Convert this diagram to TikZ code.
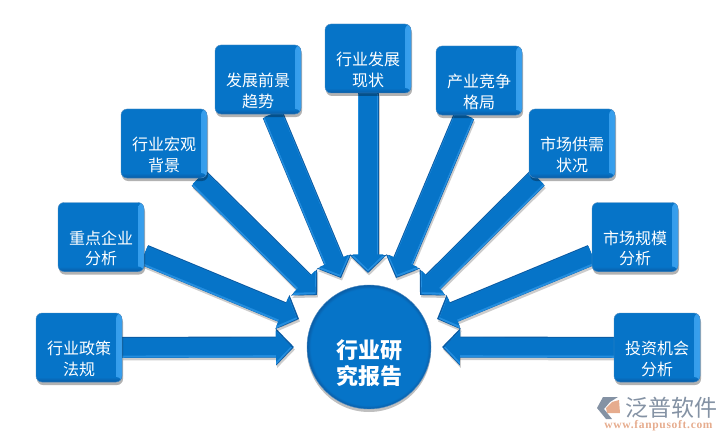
\documentclass[tikz,border=0pt]{standalone}
\usepackage{fontspec}
\usepackage{xcolor}
\newfontfamily\cjk{Noto Sans CJK SC}
\newfontfamily\urlfont[LetterSpace=6]{Liberation Serif}
\usetikzlibrary{
  arrows.meta,
  positioning,
  shadows,
  backgrounds
}
\definecolor{lanzhu}{RGB}{6, 116, 200}
\definecolor{lanan}{RGB}{10, 92, 165}
\definecolor{lanliang}{RGB}{56, 160, 238}
\definecolor{huilogo}{RGB}{132, 146, 164}
\definecolor{chenglogo}{RGB}{230, 172, 142}
\pgfdeclareradialshading{discshade}{\pgfpointorigin}{
  color(0bp)=(lanzhu); color(23.5bp)=(lanzhu); color(25bp)=(lanan); color(50bp)=(lanan)}

\begin{document}
\begin{tikzpicture}[
  x=1pt, y=-1pt,
  blk/.style  = {
    rectangle, draw=lanan!70, fill=lanzhu, rounded corners=6pt,
    minimum width=86pt, minimum height=69pt, inner sep=0pt,
    align=center, text=white,
    font=\cjk\fontsize{16}{20.5}\selectfont,
    execute at begin node={\rule{0pt}{57pt}},
    drop shadow={shadow xshift=1pt, shadow yshift=-3pt, opacity=.3, fill=black},
    path picture={
      \shade[left color=lanzhu, right color=lanliang]
        ([xshift=-6pt]path picture bounding box.north east) rectangle (path picture bounding box.south east);
      \shade[top color=lanzhu, bottom color=lanan]
        ([yshift=5pt]path picture bounding box.south west) rectangle (path picture bounding box.south east);
    }
  },
  disc/.style = {
    circle, minimum size=124pt, inner sep=0pt, draw=lanan!70, shading=discshade,
    align=center, text=white,
    font=\cjk\bfseries\fontsize{22}{26}\selectfont,
    execute at begin node={\rule{0pt}{78pt}},
    drop shadow={shadow xshift=0pt, shadow yshift=-3pt, opacity=.25, fill=black}
  },
  arr/.style  = {
    draw=lanan, line width=21pt, -{Triangle[length=18pt, width=36pt]},
    preaction = {draw=black, opacity=.2, transform canvas={xshift=1pt, yshift=-2.5pt},
      line width=21pt, -{Triangle[length=18pt, width=36pt]}},
    postaction = {draw=lanliang!60!lanzhu, line width=19.5pt, transform canvas={yshift=-.6pt},
      -{Triangle[length=16pt, width=33pt]}, shorten >=2pt},
    postaction = {draw=lanzhu, line width=17.5pt, transform canvas={yshift=.6pt},
      -{Triangle[length=15pt, width=30pt]}, shorten >=3pt}
  }
]
\useasboundingbox (0,0) rectangle (727,441);

% 中心圆
\node[disc] (baogao) at (369,347) {行业研\\究报告};

% 外圈方块
\node[blk] (zhengce)    at (79,347.5)  {行业政策\\法规};
\node[blk] (qiye)       at (101,237)   {重点企业\\分析};
\node[blk] (hongguan)   at (164,143.5) {行业宏观\\背景};
\node[blk] (qushi)      at (258,79.5)  {发展前景\\趋势};
\node[blk] (xianzhuang) at (368,58.5)  {行业发展\\现状};
\node[blk] (geju)       at (479,80.5)  {产业竞争\\格局};
\node[blk] (gongxu)     at (572,143.5) {市场供需\\状况};
\node[blk] (guimo)      at (635,237)   {市场规模\\分析};
\node[blk] (jihui)      at (657,347.5) {投资机会\\分析};

% 箭头落点
\coordinate (tzhengce)    at (294,347);
\coordinate (tqiye)       at (299,319);
\coordinate (thongguan)   at (317,295);
\coordinate (tqushi)      at (341,278);
\coordinate (txianzhuang) at (368,273);
\coordinate (tgeju)       at (396,278);
\coordinate (tgongxu)     at (420,295);
\coordinate (tguimo)      at (437,319);
\coordinate (tjihui)      at (442,347);

% 箭头
\begin{scope}[on background layer]
\draw[arr] (zhengce)    -- (tzhengce);
\draw[arr] (qiye)       -- (tqiye);
\draw[arr] (hongguan)   -- (thongguan);
\draw[arr] (qushi)      -- (tqushi);
\draw[arr] (xianzhuang) -- (txianzhuang);
\draw[arr] (geju)       -- (tgeju);
\draw[arr] (gongxu)     -- (tgongxu);
\draw[arr] (guimo)      -- (tguimo);
\draw[arr] (jihui)      -- (tjihui);
\end{scope}

% 水印
\fill[huilogo] (603,397) -- (618,397) -- (610,402) -- (604,409) -- (612,419) -- (606,419) -- (597,408) -- cycle;
\fill[chenglogo] (619,400) -- (620,413) -- (607,413) -- (606,408) -- (612,402) -- cycle;
\node[text=huilogo, font=\cjk\fontsize{23}{23}\selectfont, inner sep=0pt] (pinpai) at (671,408) {泛普软件};
\node[text=chenglogo, font=\urlfont\bfseries\fontsize{11.5}{12}\selectfont, inner sep=0pt] (wangzhi) at (658.5,426) {www.fanpusoft.com};
\end{tikzpicture}
\end{document}
